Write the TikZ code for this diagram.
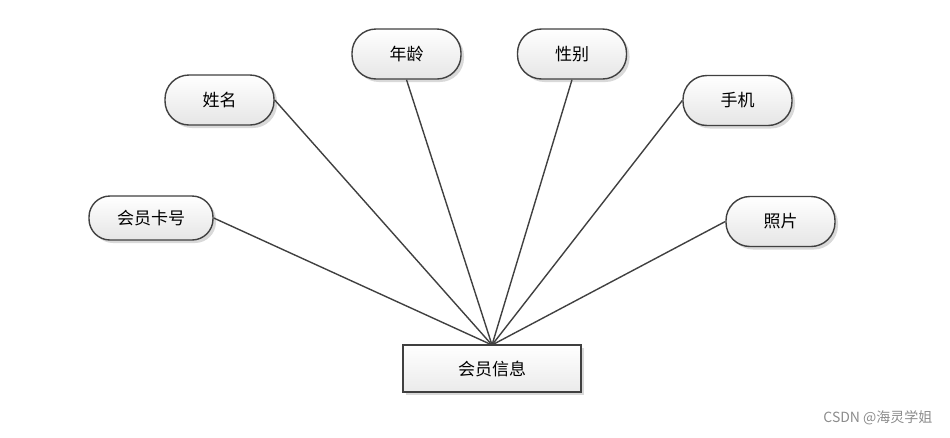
\documentclass[tikz,border=0pt]{standalone}
\usepackage{fontspec}
\setmainfont{Noto Sans CJK SC}
\newfontfamily\wmfont{Noto Sans CJK SC}
\usetikzlibrary{shadows}
\definecolor{edgec}{HTML}{404040}
\tikzset{
  attr/.style={draw=edgec, line width=1.4pt, rounded corners=24pt,
    minimum width=109pt, minimum height=50pt, inner sep=0pt,
    top color=white, bottom color=black!10,
    drop shadow={shadow xshift=3pt, shadow yshift=-3pt, opacity=0.25, fill=black!60},
    font=\fontsize{17}{19}\selectfont},
  entity/.style={draw=edgec, line width=1.4pt, minimum width=178pt, minimum height=47pt,
    inner sep=0pt, top color=white, bottom color=black!8,
    drop shadow={shadow xshift=3pt, shadow yshift=-3pt, opacity=0.25, fill=black!60},
    font=\fontsize{17}{19}\selectfont},
  link/.style={draw=edgec, line width=1.4pt}
}
\begin{document}
\begin{tikzpicture}[x=1pt,y=-1pt]
\useasboundingbox (0,0) rectangle (950,437);
\node[entity] (info) at (492,368.5) {会员信息};
\coordinate (hub) at (492,345);
\node[attr] (name) at (219.5,100) {姓名};
\node[attr] (age) at (406.5,54) {年龄};
\node[attr] (sex) at (572,54) {性别};
\node[attr] (phone) at (737.5,100.5) {手机};
\node[attr, minimum width=124pt, minimum height=44pt, rounded corners=21pt] (card) at (151,218) {会员卡号};
\node[attr] (photo) at (780.5,221.5) {照片};
\draw[link] (hub) -- (name.east);
\draw[link] (hub) -- (age.south);
\draw[link] (hub) -- (sex.south);
\draw[link] (hub) -- (phone.west);
\draw[link] (hub) -- (card.east);
\draw[link] (hub) -- (photo.west);
\node[text=black!45, font=\wmfont\fontsize{14}{16}\selectfont, anchor=east] (wm) at (936,418) {CSDN @海灵学姐};
\end{tikzpicture}
\end{document}
